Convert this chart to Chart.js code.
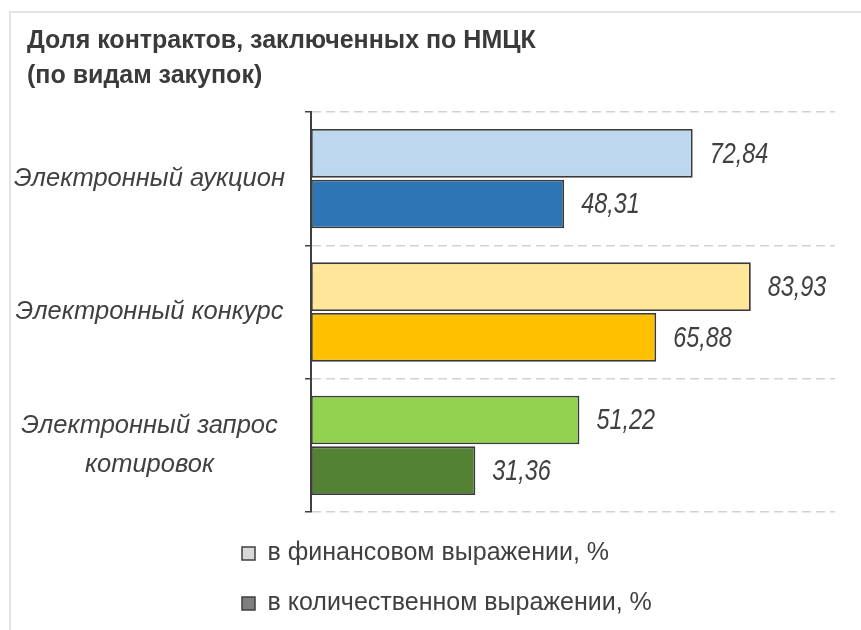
<!DOCTYPE html>
<html>
<head>
<meta charset="utf-8">
<script src="https://cdn.jsdelivr.net/npm/chart.js@4.4.1/dist/chart.umd.min.js"></script>
<style>
  html, body { margin: 0; padding: 0; background: #ffffff; }
  #wrap { position: relative; width: 861px; height: 630px; }
  #frame { position: absolute; left: 9px; top: 11px; right: 0; bottom: 0;
           border-left: 2px solid #e4e4e4; border-top: 2px solid #e4e4e4; }
  canvas { position: absolute; left: 0; top: 0; }
</style>
</head>
<body>
<div id="wrap">
  <div id="frame"></div>
  <canvas id="c" width="861" height="630"></canvas>
</div>
<script>
// ---- data ----
const titleLines = ['Доля контрактов, заключенных по НМЦК', '(по видам закупок)'];
const categories = ['Электронный аукцион', 'Электронный конкурс', ['Электронный запрос', 'котировок']];
const seriesNames = ['в финансовом выражении, %', 'в количественном выражении, %'];
const financialValues = [72.84, 83.93, 51.22];
const quantityValues = [48.31, 65.88, 31.36];
const financialColors = ['#BDD7EE', '#FFE699', '#92D050'];
const quantityColors = ['#2E75B6', '#FFC000', '#548235'];
const legendColors = ['#D9D9D9', '#7F7F7F'];

const textColor = '#404040';

const valueLabels = {
  id: 'valueLabels',
  afterDatasetsDraw(chart) {
    const ctx = chart.ctx;
    chart.data.datasets.forEach((ds, di) => {
      const meta = chart.getDatasetMeta(di);
      meta.data.forEach((bar, i) => {
        const txt = ds.data[i].toFixed(2).replace('.', ',');
        ctx.save();
        ctx.font = 'italic 30px "Liberation Sans", Arial, sans-serif';
        ctx.fillStyle = textColor;
        ctx.textAlign = 'left';
        ctx.textBaseline = 'middle';
        ctx.translate(bar.x + 17, bar.y + 1);
        ctx.scale(0.78, 1);
        ctx.fillText(txt, 0, 0);
        ctx.restore();
      });
    });
  }
};

const layoutTweak = {
  id: 'layoutTweak',
  afterLayout(chart) {
    if (chart.legend) {
      chart.legend.left = chart.chartArea.left - 94;
    }
    if (chart.scales.y) {
      chart.scales.y.left = 0; // widen label clip area so italic labels are not cut
    }
  }
};

new Chart(document.getElementById('c'), {
  type: 'bar',
  data: {
    labels: categories,
    datasets: [
      { label: seriesNames[0], data: financialValues, backgroundColor: financialColors,
        borderColor: '#3A3A3A', borderWidth: 1.8, borderSkipped: false },
      { label: seriesNames[1], data: quantityValues, backgroundColor: quantityColors,
        borderColor: '#3A3A3A', borderWidth: 1.8, borderSkipped: false }
    ]
  },
  options: {
    indexAxis: 'y',
    responsive: false,
    animation: false,
    categoryPercentage: 0.76,
    barPercentage: 0.96,
    layout: { padding: { top: 0, left: 27, right: 26, bottom: 4 } },
    scales: {
      x: {
        display: true, min: 0, max: 100,
        ticks: { display: false },
        grid: { display: false, drawTicks: true, tickLength: 4 },
        border: { display: false }
      },
      y: {
        afterFit(scale) { scale.width = 284; },
        grid: { color: '#D2D2D2', lineWidth: 1.5, tickColor: '#404040', tickWidth: 1.5,
                tickLength: 6, tickBorderDash: [] },
        border: { display: true, color: '#404040', width: 2, dash: [9, 5] },
        ticks: {
          color: textColor, padding: 20, crossAlign: 'center',
          font: { family: '"Liberation Sans", Arial, sans-serif', size: 25.5, style: 'italic', lineHeight: 1.5 }
        }
      }
    },
    plugins: {
      title: {
        display: true, text: titleLines, align: 'start', color: '#3A3A3A',
        font: { family: '"Liberation Sans", Arial, sans-serif', size: 25, weight: 'bold', lineHeight: 1.4 },
        padding: { top: 24, bottom: 18 }
      },
      legend: {
        position: 'bottom', align: 'start',
        labels: {
          color: textColor, boxWidth: 13, boxHeight: 13, padding: 25,
          font: { family: '"Liberation Sans", Arial, sans-serif', size: 25 },
          generateLabels(chart) {
            const items = Chart.defaults.plugins.legend.labels.generateLabels(chart);
            items.forEach((it, i) => { it.fillStyle = legendColors[i]; it.strokeStyle = '#3F3F3F'; it.lineWidth = 1.5; });
            return items;
          }
        }
      },
      tooltip: { enabled: false }
    }
  },
  plugins: [valueLabels, layoutTweak]
});
</script>
</body>
</html>
